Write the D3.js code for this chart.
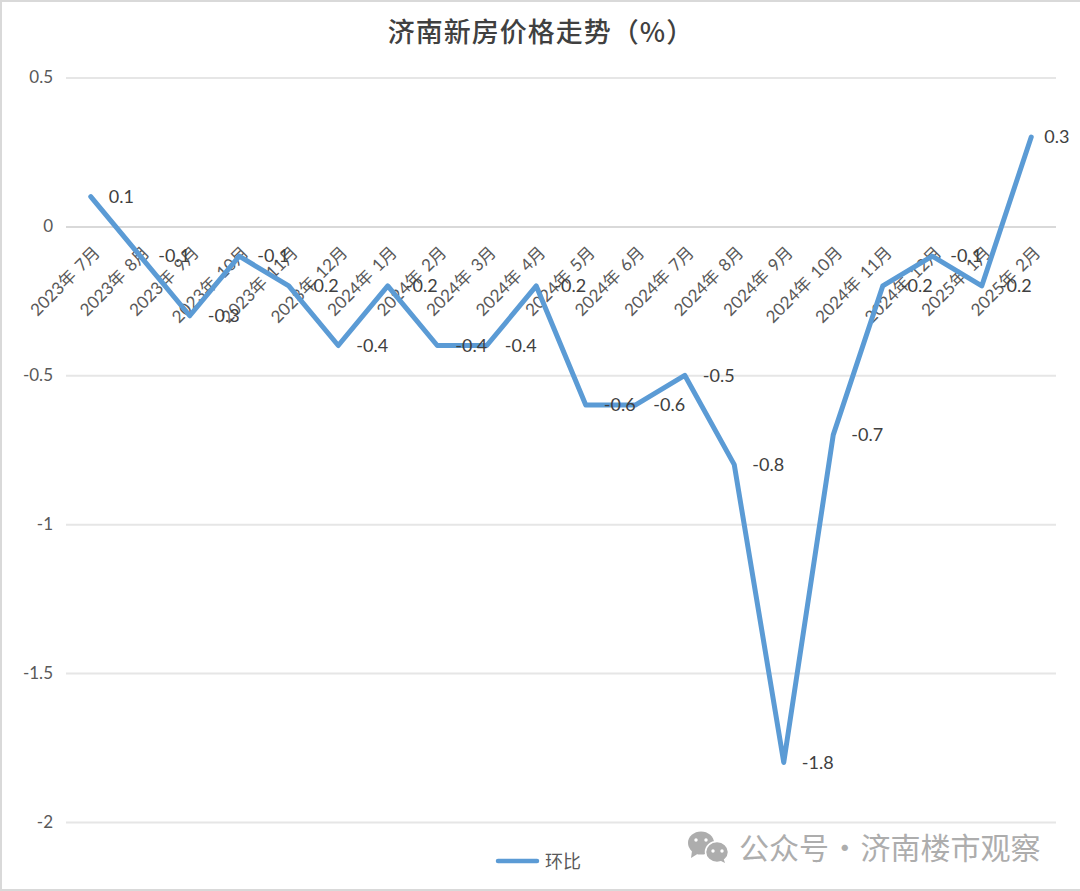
<!DOCTYPE html>
<html>
<head>
<meta charset="utf-8">
<script src="https://cdn.jsdelivr.net/npm/d3@7/dist/d3.min.js"></script>
<style>
html, body { margin: 0; padding: 0; background: #fff; }
svg { display: block; }
text { font-family: Lato, "Noto Sans CJK SC", sans-serif; }
</style>
</head>
<body>
<div id="chart"></div>
<script>
var months = ["2023年 7月", "2023年 8月", "2023年 9月", "2023年 10月", "2023年 11月", "2023年 12月",
	"2024年 1月", "2024年 2月", "2024年 3月", "2024年 4月", "2024年 5月", "2024年 6月", "2024年 7月",
	"2024年 8月", "2024年 9月", "2024年 10月", "2024年 11月", "2024年 12月", "2025年 1月", "2025年 2月"];
var huanbi = [0.1, -0.1, -0.3, -0.1, -0.2, -0.4, -0.2, -0.4, -0.4, -0.2, -0.6, -0.6, -0.5, -0.8, -1.8, -0.7, -0.2, -0.1, -0.2, 0.3];
var yTicks = [0.5, 0, -0.5, -1, -1.5, -2];
var title = "济南新房价格走势（%）";
var seriesName = "环比";
var watermark = "公众号 · 济南楼市观察";

var width = 1080, height = 891;
var plot = { left: 66, right: 1056, top: 77.5, bottom: 822 };
var blue = "#5b9bd5", grey = "#595959", gridColor = "#e6e6e6";

var svg = d3.select("#chart").append("svg").attr("width", width).attr("height", height);

// chart frame
svg.append("rect").attr("x", 1).attr("y", 1).attr("width", width).attr("height", height - 2)
	.attr("fill", "#fff").attr("stroke", "#d9d9d9").attr("stroke-width", 2);

var x = d3.scaleBand().domain(months).range([plot.left, plot.right]);
var y = d3.scaleLinear().domain([-2, 0.5]).range([plot.bottom, plot.top]);

// y axis + gridlines
var yAxis = svg.append("g").attr("transform", "translate(" + plot.left + ",0)")
	.call(d3.axisLeft(y).tickValues(yTicks).tickFormat(function(d) { return d; })
		.tickSize(-(plot.right - plot.left)).tickPadding(13));
yAxis.select(".domain").remove();
yAxis.selectAll("line").attr("stroke", gridColor).attr("stroke-width", 2);
yAxis.selectAll("text").attr("fill", grey).attr("font-size", 17);

// zero axis is a bit darker
yAxis.selectAll("line").filter(function(d) { return d === 0; }).attr("stroke", "#d9d9d9");

// month labels, hanging under the zero line
svg.append("g").selectAll("text").data(months).join("text")
	.attr("transform", function(d) {
		return "translate(" + (x(d) + x.bandwidth() / 2 + 6) + "," + (y(0) + 23) + ") rotate(-45)";
	})
	.attr("text-anchor", "end")
	.attr("dy", "0.35em")
	.attr("fill", grey)
	.attr("font-size", 17)
	.attr("word-spacing", 2)
	.text(function(d) { return d; });

var line = d3.line()
	.x(function(d, i) { return x(months[i]) + x.bandwidth() / 2; })
	.y(function(d) { return y(d); });

svg.append("path").datum(huanbi)
	.attr("d", line)
	.attr("fill", "none")
	.attr("stroke", blue)
	.attr("stroke-width", 5)
	.attr("stroke-linecap", "round")
	.attr("stroke-linejoin", "round");

// data labels sit to the right of the points, the last one is pulled in
svg.append("g").selectAll("text").data(huanbi).join("text")
	.attr("x", function(d, i) {
		return x(months[i]) + x.bandwidth() / 2 + (i === huanbi.length - 1 ? 13 : 18);
	})
	.attr("y", function(d) { return y(d); })
	.attr("dy", "0.35em")
	.attr("fill", "#404040")
	.attr("font-size", 18)
	.text(function(d) { return d; });

// title
svg.append("text").attr("x", 541).attr("y", 33)
	.attr("text-anchor", "middle")
	.attr("dy", "0.35em")
	.attr("fill", "#404040")
	.attr("font-size", 27)
	.attr("font-weight", 500)
	.attr("letter-spacing", 1)
	.style("font-family", "'Noto Sans CJK SC', sans-serif")
	.text(title);

// legend
svg.append("line").attr("x1", 498).attr("x2", 537).attr("y1", 861).attr("y2", 861)
	.attr("stroke", blue).attr("stroke-width", 4.5).attr("stroke-linecap", "round");
svg.append("text").attr("x", 545).attr("y", 862)
	.attr("dy", "0.35em")
	.attr("fill", grey)
	.attr("font-size", 18)
	.text(seriesName);

// watermark: wechat icon + account name
var mark = svg.append("g").attr("fill", "#adadad");
mark.append("ellipse").attr("cx", 701).attr("cy", 843).attr("rx", 13).attr("ry", 11.5);
mark.append("path").attr("d", "M692 851 L691 858 L699 853 Z");
mark.append("ellipse").attr("cx", 717).attr("cy", 852).attr("rx", 11.5).attr("ry", 10.5)
	.attr("stroke", "#fff").attr("stroke-width", 1.5);
mark.append("path").attr("d", "M719 860 L725 863 L723 857 Z");
var eyes = svg.append("g").attr("fill", "#fff");
[[696, 840], [706, 840], [713, 851], [722, 851]].forEach(function(p) {
	eyes.append("circle").attr("cx", p[0]).attr("cy", p[1]).attr("r", 1.7);
});
svg.append("text").attr("x", 739).attr("y", 848)
	.attr("dy", "0.35em")
	.attr("fill", "#adadad")
	.attr("font-size", 30)
	.attr("word-spacing", -6)
	.style("font-family", "'Noto Sans CJK SC', sans-serif")
	.text(watermark);
</script>
</body>
</html>
